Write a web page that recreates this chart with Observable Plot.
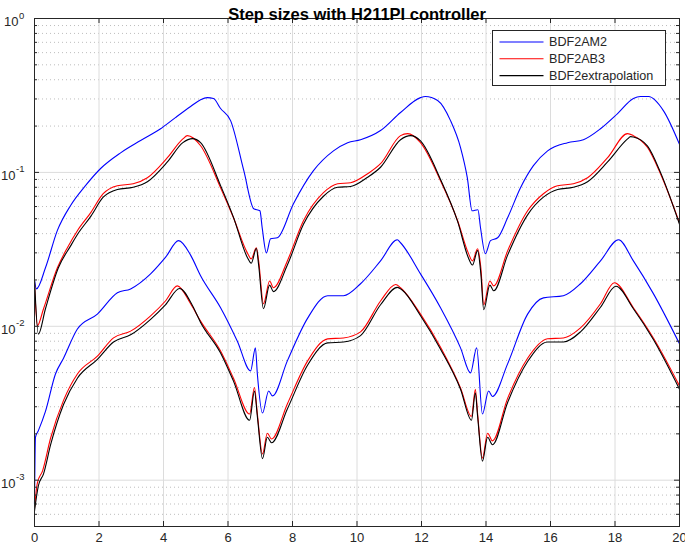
<!DOCTYPE html>
<html><head><meta charset="utf-8">
<script src="https://cdn.jsdelivr.net/npm/d3@7"></script>
<script src="https://cdn.jsdelivr.net/npm/@observablehq/plot@0.6"></script>
<style>
body{margin:0;background:#fff;font-family:"Liberation Sans",Arial,sans-serif}
#wrap{position:relative;width:685px;height:547px}
</style></head><body><div id="wrap"></div>
<script>
// ---- data ----
const title = "Step sizes with H211PI controller";
const seriesNames = ["BDF2AM2", "BDF2AB3", "BDF2extrapolation"];
const seriesColors = ["#0000ff", "#ff0000", "#000000"];
const xTicks = [0,2,4,6,8,10,12,14,16,18,20];
const yDecades = [1, 0.1, 0.01, 0.001];
const yExp = ["0", "-1", "-2", "-3"];

// BDF2AM2, upper (larger tolerance)
const am2HiT = [0,0.06,0.34,0.71,1.12,1.58,2.05,2.67,3.29,3.91,4.37,4.84,5.15,5.36,5.55,5.77,6.08,6.49,6.8,6.99,7.06,7.19,7.32,7.53,8.03,8.65,9.27,9.71,10.11,10.73,11.35,11.97,12.12,12.5,12.9,13.21,13.42,13.57,13.75,13.83,13.98,14.14,14.36,14.67,15.07,15.47,15.91,16.53,17.02,17.55,18.08,18.57,18.79,19.04,19.5,20];
const am2HiV = [0.020,0.0175,0.024,0.042,0.061,0.082,0.106,0.134,0.161,0.192,0.227,0.268,0.297,0.306,0.302,0.26,0.217,0.1026,0.058,0.0563,0.0437,0.030,0.037,0.0376,0.0626,0.1026,0.138,0.156,0.163,0.187,0.245,0.306,0.311,0.293,0.217,0.145,0.0924,0.0563,0.0572,0.0437,0.0296,0.036,0.0376,0.0507,0.0795,0.1106,0.138,0.156,0.163,0.192,0.241,0.302,0.311,0.311,0.252,0.152];

// BDF2AB3, upper
const ab3HiT = [0,0.09,0.28,0.71,1.02,1.33,1.75,2.13,2.57,3.06,3.5,4.12,4.6,4.74,5.15,5.77,6.17,6.6,6.72,6.88,6.95,7.1,7.29,7.41,7.84,8.34,8.96,9.4,9.8,10.33,10.73,11.35,11.57,11.97,12.59,13.12,13.45,13.58,13.74,13.84,13.93,14.12,14.24,14.67,15.29,15.78,16.22,16.71,17.15,17.77,18.39,18.57,19.01,19.41,20];
const ab3HiV = [0.019,0.0101,0.013,0.024,0.0324,0.0418,0.055,0.0727,0.0819,0.0844,0.0924,0.1246,0.165,0.1733,0.149,0.0795,0.0507,0.030,0.0274,0.0324,0.0266,0.014,0.0197,0.0178,0.0266,0.0485,0.0738,0.0844,0.0857,0.098,0.1139,0.1733,0.1786,0.156,0.0883,0.0485,0.030,0.0266,0.0319,0.024,0.0138,0.0197,0.0183,0.0309,0.0563,0.0727,0.0819,0.0844,0.0924,0.1246,0.1786,0.1733,0.145,0.098,0.047];

// BDF2extrapolation, upper
const extHiT = [0,0.12,0.34,0.74,1.12,1.33,1.75,2.13,2.57,3.06,3.5,4.12,4.6,4.9,5.15,5.77,6.17,6.6,6.72,6.88,6.95,7.1,7.29,7.41,7.84,8.34,8.96,9.4,9.8,10.33,10.73,11.35,11.66,11.97,12.59,13.12,13.45,13.58,13.74,13.84,13.93,14.12,14.24,14.67,15.29,15.78,16.22,16.71,17.15,17.77,18.39,18.48,18.57,19.01,19.41,20];
const extHiV = [0.020,0.0089,0.013,0.024,0.0333,0.0395,0.052,0.069,0.0775,0.080,0.087,0.117,0.156,0.1657,0.156,0.082,0.051,0.028,0.0257,0.032,0.025,0.013,0.0185,0.0168,0.025,0.046,0.070,0.080,0.081,0.093,0.108,0.163,0.1733,0.16,0.09,0.048,0.028,0.025,0.031,0.022,0.0128,0.0185,0.017,0.029,0.053,0.069,0.0775,0.080,0.087,0.117,0.165,0.1707,0.17,0.148,0.10,0.046];

// BDF2AM2, lower (smaller tolerance)
const am2LoT = [0,0.03,0.12,0.34,0.65,0.9,1.33,1.95,2.57,2.98,3.6,4.06,4.47,4.84,5.15,5.77,6.29,6.70,6.85,6.91,7.07,7.26,7.38,7.84,8.47,9.09,9.58,10.11,10.73,11.25,11.35,11.97,12.59,13.21,13.52,13.71,13.89,14.08,14.2,14.67,15.29,15.78,16.4,16.93,17.55,18.11,18.57,19.19,20];
const am2LoV = [0.0007,0.0019,0.0021,0.0028,0.0049,0.0062,0.0096,0.012,0.0165,0.0175,0.0219,0.028,0.036,0.029,0.0213,0.0132,0.008,0.00513,0.00724,0.0049,0.00273,0.0038,0.00353,0.00596,0.0113,0.0158,0.0158,0.0189,0.0266,0.0365,0.0349,0.0219,0.0132,0.00724,0.00498,0.00724,0.00269,0.0038,0.0035,0.0057,0.012,0.0153,0.0158,0.0189,0.0266,0.0365,0.0266,0.0163,0.0077];

// BDF2AB3, lower
const ab3LoT = [0,0.09,0.25,0.5,0.9,1.33,1.95,2.45,2.98,3.6,4.06,4.43,4.84,5.15,5.77,6.17,6.67,6.82,6.91,7.07,7.22,7.35,7.84,8.47,9.09,9.58,10.11,10.73,11.2,11.35,11.97,12.59,13.21,13.55,13.67,13.74,13.89,14.05,14.2,14.67,15.29,15.91,16.4,16.93,17.55,17.98,18.57,19.19,20];
const ab3LoV = [0.00066,0.00096,0.00115,0.00188,0.0033,0.0049,0.0064,0.0084,0.0093,0.0117,0.0146,0.0183,0.014,0.0108,0.0069,0.0046,0.00269,0.004,0.0027,0.00148,0.00202,0.00185,0.00313,0.00596,0.00828,0.0084,0.0092,0.0146,0.0187,0.0178,0.012,0.0073,0.00398,0.0026,0.0039,0.0027,0.00139,0.00202,0.0018,0.0034,0.0062,0.0083,0.0084,0.00976,0.014,0.0192,0.0132,0.0084,0.0041];

// BDF2extrapolation, lower
const extLoT = [0,0.12,0.28,0.5,0.9,1.33,1.95,2.45,2.98,3.6,4.06,4.5,4.9,5.15,5.77,6.17,6.67,6.82,6.91,7.07,7.22,7.35,7.84,8.47,9.09,9.58,10.11,10.73,11.25,11.4,11.97,12.59,13.21,13.55,13.67,13.74,13.89,14.05,14.2,14.67,15.29,15.91,16.4,16.93,17.55,18.03,18.57,19.19,20];
const extLoV = [0.00063,0.00092,0.0011,0.0017,0.0031,0.0046,0.0061,0.0079,0.0088,0.0111,0.0138,0.0176,0.0136,0.0106,0.0067,0.0044,0.00245,0.0038,0.0026,0.00138,0.0019,0.00175,0.0029,0.0056,0.0078,0.0079,0.0087,0.0138,0.0179,0.0172,0.0117,0.0071,0.0039,0.00245,0.0037,0.0026,0.00133,0.0019,0.0017,0.0032,0.0059,0.0079,0.0079,0.0092,0.0133,0.0182,0.013,0.0082,0.0039];

// ---- build ----
const mk = (t, v) => t.map((d, i) => ({t: d, v: v[i]}));
const curves = [
  [mk(am2HiT, am2HiV), 0], [mk(am2LoT, am2LoV), 0],
  [mk(ab3HiT, ab3HiV), 1], [mk(ab3LoT, ab3LoV), 1],
  [mk(extHiT, extHiV), 2], [mk(extLoT, extLoV), 2]
];

const W = 685, H = 547, mL = 34, mR = 6, mT = 18, mB = 21;
const pw = W - mL - mR, ph = H - mT - mB;
const yDomain = [5e-4, 1];
const minorY = [];
for (let e = -4; e <= 0; e++) for (let m = 2; m <= 9; m++) {
  const v = m * Math.pow(10, e);
  if (v >= yDomain[0] * 0.999 && v < 1) minorY.push(v);
}
const axisColor = "#262626";

const chart = Plot.plot({
  width: W, height: H,
  marginLeft: mL, marginRight: mR, marginTop: mT, marginBottom: mB,
  style: {fontFamily: "'Liberation Sans', Arial, sans-serif", background: "white", overflow: "visible"},
  x: {domain: [0, 20], axis: null},
  y: {type: "log", domain: yDomain, axis: null},
  marks: [
    Plot.ruleY(minorY, {stroke: "#bdbdbd", strokeDasharray: "1,3", strokeWidth: 1}),
    Plot.ruleX(xTicks, {stroke: "#dcdcdc", strokeWidth: 1}),
    Plot.ruleY(yDecades, {stroke: "#dcdcdc", strokeWidth: 1}),
    ...curves.map(([d, k]) => Plot.line(d, {x: "t", y: "v", stroke: seriesColors[k], strokeWidth: 1.1, curve: "monotone-x"})),
    Plot.frame({stroke: axisColor, strokeWidth: 1}),
    // inward ticks (box on)
    Plot.ruleX(xTicks, {insetTop: ph - 5, stroke: axisColor}),
    Plot.ruleX(xTicks, {insetBottom: ph - 5, stroke: axisColor}),
    Plot.ruleY(yDecades, {insetRight: pw - 5, stroke: axisColor}),
    Plot.ruleY(yDecades, {insetLeft: pw - 5, stroke: axisColor}),
    Plot.ruleY(minorY, {insetRight: pw - 3, stroke: axisColor}),
    Plot.ruleY(minorY, {insetLeft: pw - 3, stroke: axisColor}),
    // x tick labels
    Plot.text(xTicks, {x: d => d, frameAnchor: "bottom", dy: 15, text: d => String(d), fontSize: 13, fill: axisColor}),
    // y tick labels: 10 with superscript
    Plot.text(yDecades.slice(0, 1), {y: d => d, frameAnchor: "left", text: () => "10", textAnchor: "end", dx: -16, dy: 3.5, fontSize: 13, fill: axisColor}),
    Plot.text(yDecades.slice(0, 1), {y: d => d, frameAnchor: "left", text: (d, i) => yExp[i], textAnchor: "start", dx: -15.5, dy: -3, fontSize: 9.5, fill: axisColor}),
    Plot.text(yDecades.slice(1), {y: d => d, frameAnchor: "left", text: () => "10", textAnchor: "end", dx: -19, dy: 3.5, fontSize: 13, fill: axisColor}),
    Plot.text(yDecades.slice(1), {y: d => d, frameAnchor: "left", text: (d, i) => yExp[i + 1], textAnchor: "start", dx: -18.5, dy: -3, fontSize: 9.5, fill: axisColor}),
    // title
    Plot.text([title], {frameAnchor: "top", dy: -10, text: d => d, fontWeight: "bold", fontSize: 16.5, fill: "#000"})
  ]
});
document.getElementById("wrap").appendChild(chart);

// legend (inside the SVG, top-right)
const svg = d3.select(chart);
const lg = svg.append("g").attr("transform", "translate(492.5,30.5)").attr("text-anchor", "start");
lg.append("rect").attr("width", 173).attr("height", 55).attr("fill", "#fff").attr("stroke", axisColor).attr("stroke-width", 1);
seriesNames.forEach((name, i) => {
  const y = 11.5 + i * 16.8;
  lg.append("line").attr("x1", 7).attr("x2", 51).attr("y1", y).attr("y2", y)
    .attr("stroke", seriesColors[i]).attr("stroke-width", 1.1);
  lg.append("text").attr("x", 56.5).attr("y", y).attr("dy", "0.35em")
    .attr("text-anchor", "start")
    .attr("font-size", 12.6).attr("fill", axisColor)
    .attr("font-family", "'Liberation Sans', Arial, sans-serif").text(name);
});
</script></body></html>
